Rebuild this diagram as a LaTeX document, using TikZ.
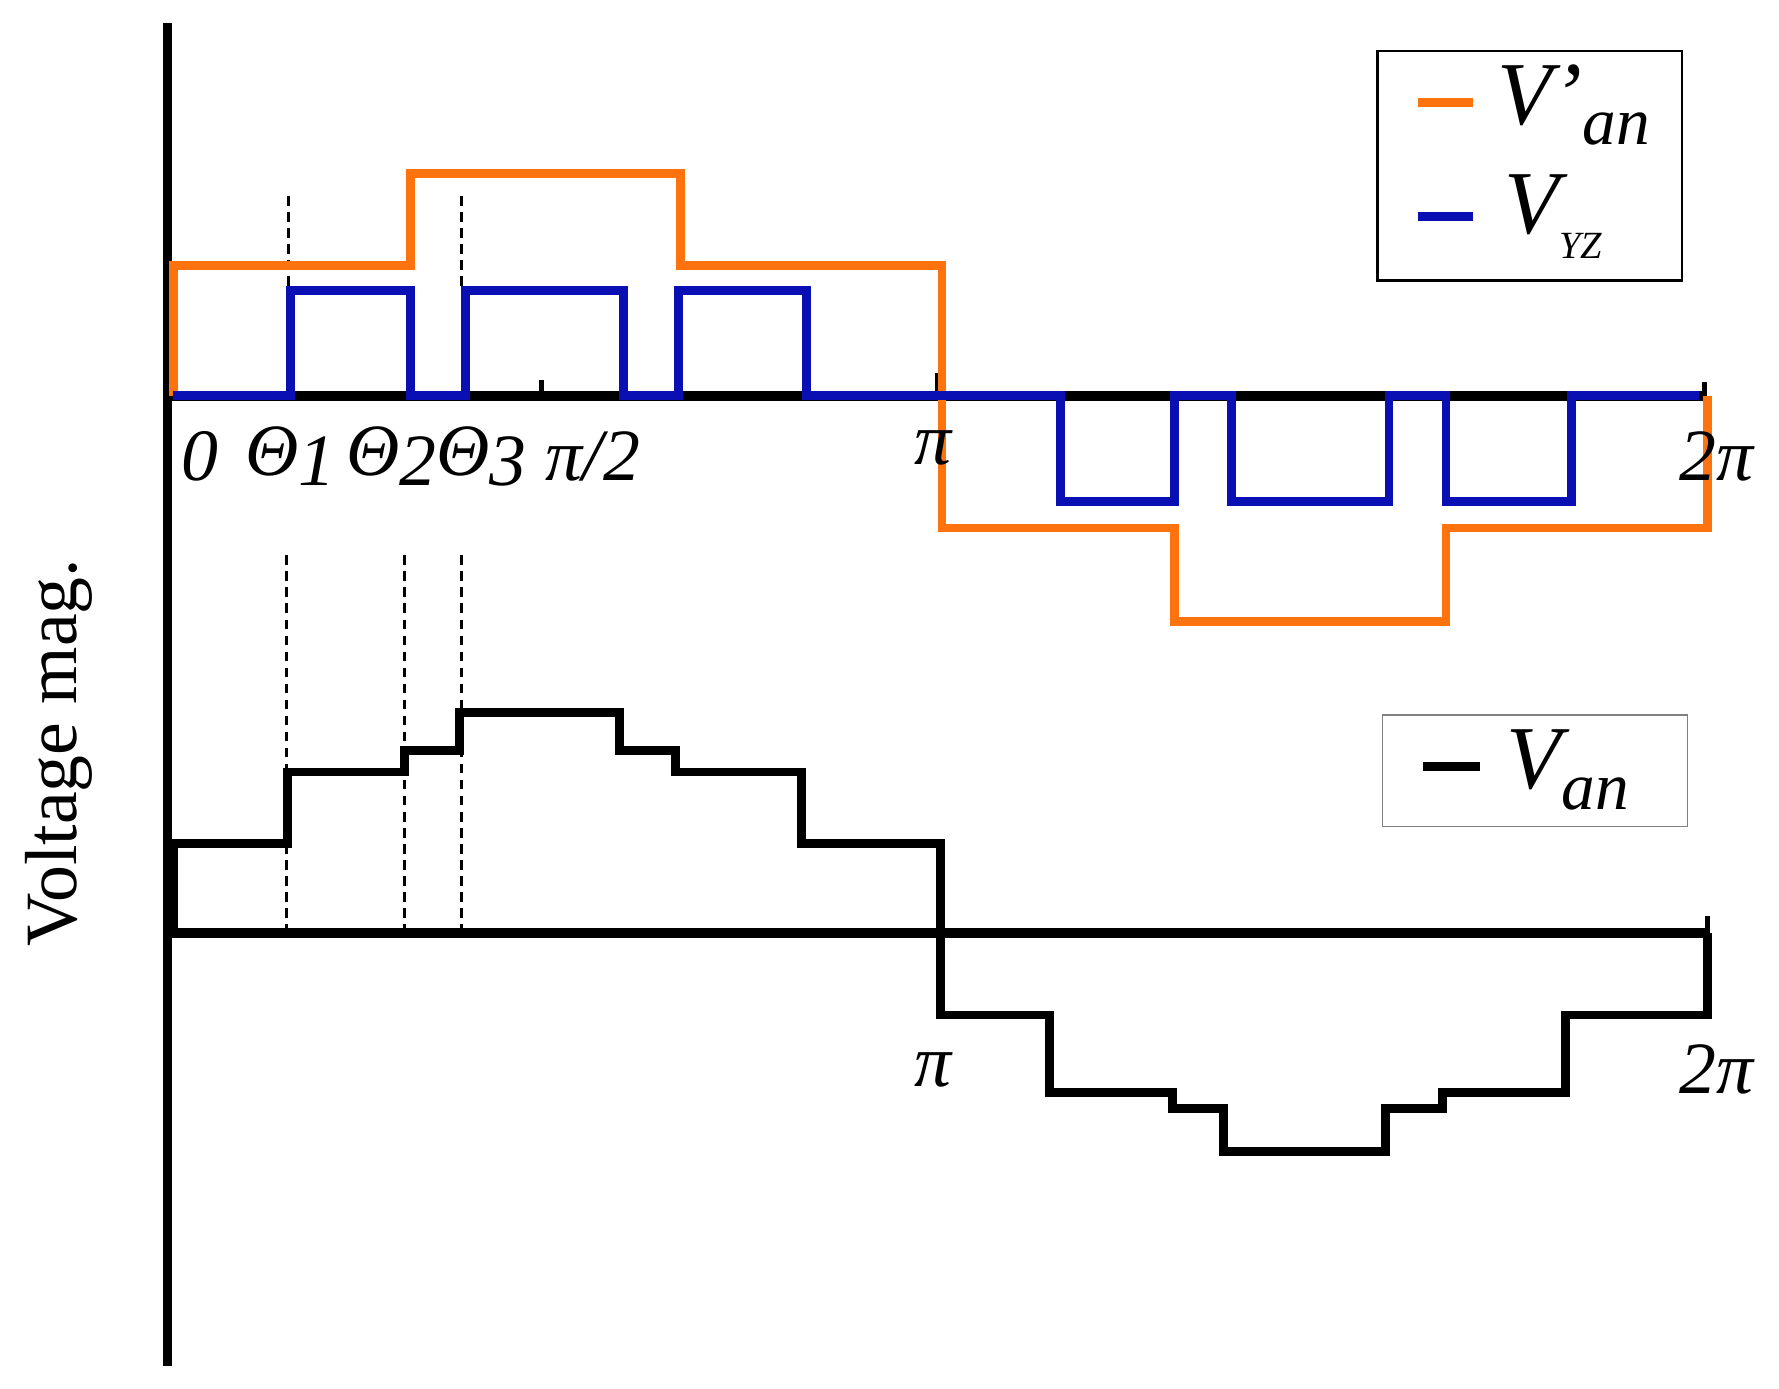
\documentclass[tikz,border=0pt]{standalone}
\usepackage{fontspec}
\setmainfont{Liberation Serif}
\begin{document}
\begin{tikzpicture}[x=0.25mm,y=-0.25mm,
 lab/.style={font=\fontsize{46}{50}\selectfont\itshape},
 ax/.style={line width=6pt},
 wav/.style={line width=5.5pt},
 dsh/.style={dash pattern=on 6pt off 4pt,line width=2pt}]
\useasboundingbox (0,0) rectangle (1560,1218);
\definecolor{org}{RGB}{255,115,15}
\definecolor{blu}{RGB}{10,15,180}
% axes
\draw[ax] (147,20) -- (147,1198);
\draw[ax] (147,347) -- (1495,347);
\draw[line width=3pt] (1495,347) -- (1495,335) (475,347) -- (475,333) (822,347) -- (822,327);
\draw[ax] (147,818) -- (1497,818);
\draw[line width=3pt] (1497,818) -- (1497,803);
% dashed
\draw[dsh] (253,172) -- (253,255) (405,172) -- (405,255);
\draw[dsh] (251,487) -- (251,815) (355,487) -- (355,815) (405,487) -- (405,815);
% orange
\draw[wav,org] (152,347) -- (152,233) -- (360,233) -- (360,152) -- (597,152) -- (597,233) -- (826,233) -- (826,463) -- (1030,463) -- (1030,545) -- (1268,545) -- (1268,463) -- (1497,463) -- (1497,347);
% blue
\draw[wav,blu] (152,347) -- (255,347) -- (255,255) -- (360,255) -- (360,347) -- (408,347) -- (408,255) -- (547,255) -- (547,347) -- (595,347) -- (595,255) -- (707,255) -- (707,347) -- (930,347) -- (930,440) -- (1030,440) -- (1030,347) -- (1080,347) -- (1080,440) -- (1218,440) -- (1218,347) -- (1268,347) -- (1268,440) -- (1378,440) -- (1378,347) -- (1490,347);
% black
\draw[wav] (152,818) -- (152,740) -- (252,740) -- (252,677) -- (355,677) -- (355,658) -- (403,658) -- (403,625) -- (543,625) -- (543,658) -- (592,658) -- (592,677) -- (703,677) -- (703,740) -- (825,740) -- (825,890) -- (920,890) -- (920,958) -- (1028,958) -- (1028,972) -- (1073,972) -- (1073,1010) -- (1215,1010) -- (1215,972) -- (1265,972) -- (1265,958) -- (1373,958) -- (1373,890) -- (1497,890) -- (1497,818);
% labels
\node[lab] (l0) at (175,400) {0};
\node[lab] (l1) at (255,400) {Θ\raisebox{-0.3ex}{1}};
\node[lab] (l2) at (343,400) {Θ\raisebox{-0.3ex}{2}};
\node[lab] (l3) at (422,400) {Θ\raisebox{-0.3ex}{3}};
\node[lab] (l4) at (520,400) {π/2};
\node[lab] (l5) at (818,393) {π};
\node[lab] (l6) at (1505,400) {2π};
\node[lab] (l7) at (818,938) {π};
\node[lab] (l8) at (1505,938) {2π};
\node[rotate=90,font=\fontsize{46}{50}\selectfont] (yl) at (52,660) {Voltage mag.};
% legends
\draw[line width=1.4pt] (1208,45) rectangle (1475,246);
\draw[line width=6pt,org] (1243,90) -- (1292,90);
\draw[line width=6pt,blu] (1243,190) -- (1292,190);
\node[lab,font=\fontsize{56}{60}\selectfont\itshape] (la) at (1380,92) {V'\raisebox{-0.5ex}{\fontsize{42}{44}\selectfont an}};
\node[lab,font=\fontsize{56}{60}\selectfont\itshape] (lb) at (1362,190) {V\raisebox{-0.6ex}{\fontsize{24}{26}\selectfont YZ}};
\draw[line width=0.7pt,gray] (1212,627) rectangle (1480,725);
\draw[line width=6pt] (1248,672) -- (1298,672);
\node[lab,font=\fontsize{56}{60}\selectfont\itshape] (lc) at (1375,675) {V\raisebox{-0.5ex}{\fontsize{42}{44}\selectfont an}};
\end{tikzpicture}
\end{document}
